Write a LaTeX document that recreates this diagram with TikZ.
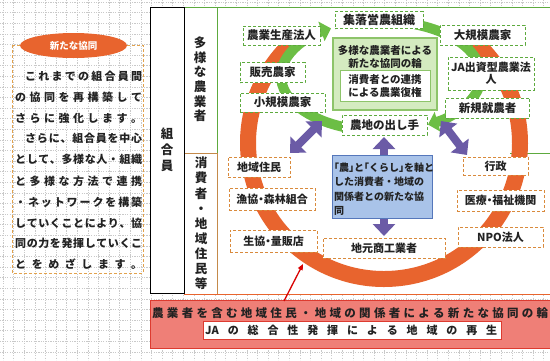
\documentclass[tikz,border=0pt]{standalone}
\usepackage{fontspec}
\usetikzlibrary{arrows.meta,shapes.geometric,calc}
\newfontfamily\jp{Noto Sans CJK JP}
\newfontfamily\jph[RawFeature=+halt]{Noto Sans CJK JP}
\definecolor{ringor}{HTML}{E8642E}
\definecolor{ringgr}{HTML}{6CBE45}
\definecolor{boxgr}{HTML}{5DAA3E}
\definecolor{boxor}{HTML}{D98A3C}
\definecolor{purp}{HTML}{6B5BA6}
\definecolor{bluef}{HTML}{A9C3E9}
\definecolor{blued}{HTML}{5577BB}
\definecolor{cgf}{HTML}{D4EBC0}
\definecolor{cgd}{HTML}{8DC46A}
\definecolor{redf}{HTML}{EF7F77}
\definecolor{redd}{HTML}{DD3B30}
\definecolor{gridc}{HTML}{C9C9C9}
\definecolor{brownc}{HTML}{C48A4A}
\definecolor{dashor}{HTML}{E2A24C}
\definecolor{txt}{HTML}{222222}
\def\sprEnd{}
\def\spr#1{\sprA#1\sprEnd}
\def\sprA#1#2\sprEnd{#1\ifx\sprEnd#2\sprEnd\else\hfill\sprA#2\sprEnd\fi}
\tikzset{
  gbox/.style={draw=boxgr, fill=white, line width=0.9pt, dash pattern=on 3pt off 2pt, inner sep=0pt, align=center, text=txt, font=\jp\bfseries\fontsize{11.5}{12.5}\selectfont},
  obox/.style={draw=boxor, fill=white, line width=0.9pt, dash pattern=on 3pt off 2pt, inner sep=0pt, align=center, text=txt, font=\jph\bfseries\fontsize{11}{12.5}\selectfont},
  gring/.style={ringgr, line width=10pt, -{Triangle[width=20pt,length=10pt]}},
  parr/.style={purp, line width=8pt, {Triangle[width=22pt,length=12pt]}-{Triangle[width=22pt,length=12pt]}},
  vtxt/.style={inner sep=0pt, align=center, text=txt},
  ptxt/.style={anchor=west, inner sep=0pt, text=txt, font=\jp\bfseries\fontsize{11}{13}\selectfont},
  gridln/.style={gridc, line width=0.4pt, dash pattern=on 1.2pt off 1.2pt},
}
\begin{document}
\begin{tikzpicture}[x=1pt,y=-1pt]
\useasboundingbox (0,0) rectangle (550,360);
\fill[white] (0,0) rectangle (550,360);
% grid
\foreach \i in {0,...,52} \draw[gridln] ({\i*10.6+3},0) -- ({\i*10.6+3},360);
\foreach \j in {0,...,34} \draw[gridln] (0,{\j*10.6+2}) -- (550,{\j*10.6+2});
% left panel
\draw[dashor, dash pattern=on 3pt off 2pt, line width=1pt] (12,45) rectangle (143,273);
\node[ellipse, fill=ringor, minimum width=107pt, minimum height=25pt, inner sep=0pt, text=white, font=\jp\bfseries\fontsize{9.5}{11}\selectfont] (oval) at (73.5,45.5) {新たな協同};
\node[ptxt] (p1) at (25,76) {\hbox to 117pt{\spr{これまでの組合員間}}};
\node[ptxt] (p2) at (15,97) {\hbox to 127pt{\spr{の協同を再構築して}}};
\node[ptxt] (p3) at (15,118) {\hbox to 127pt{\spr{さらに強化します。}}};
\node[ptxt] (p4) at (25,138) {\hbox to 117pt{\spr{さらに、組合員を中心}}};
\node[ptxt] (p5) at (15,159) {\hbox to 127pt{\spr{として、多様な人・組織}}};
\node[ptxt] (p6) at (15,181) {\hbox to 127pt{\spr{と多様な方法で連携}}};
\node[ptxt] (p7) at (15,202) {\hbox to 127pt{\spr{・ネットワークを構築}}};
\node[ptxt] (p8) at (15,223) {\hbox to 127pt{\spr{していくことにより、協}}};
\node[ptxt] (p9) at (15,243) {\hbox to 127pt{\spr{同の力を発揮していくこ}}};
\node[ptxt] (p10) at (15,264) {\hbox to 127pt{\spr{とをめざします。}}};
% main frame
\fill[white] (150,7) rectangle (550,294);
\draw[boxgr, line width=0.8pt] (184,7) -- (550,7);
\draw[boxgr, line width=0.8pt] (184,7) rectangle (217,153);
\draw[boxgr, line width=0.8pt] (510,153) -- (550,153);
\draw[brownc, line width=0.8pt] (184,153) rectangle (217,294);
\draw[ringor, line width=0.8pt] (184,294) -- (550,294);
\draw[black, line width=1pt] (150,7) rectangle (184,293);
\node[vtxt, font=\jp\bfseries\fontsize{12.5}{16}\selectfont] (kumiai) at (167,150) {組\\合\\員};
\node[vtxt, font=\jp\bfseries\fontsize{12.5}{14.6}\selectfont] (noug) at (200,79.5) {多\\様\\な\\農\\業\\者};
\node[vtxt, font=\jp\bfseries\fontsize{12.5}{15.1}\selectfont] (shohi) at (201,223.5) {消\\費\\者\\・\\地\\域\\住\\民\\等};
% orange ring (open at the top, ends hidden behind the upper boxes)
\coordinate (oc) at (384,143);
\draw[ringor, line width=16pt] ($(oc)+(-49:136 and 136)$) arc[start angle=-49, end angle=229, x radius=136, y radius=136];
% green ring
\coordinate (gc) at (381,76);
\draw[gring] ($(gc)+(110:100 and 55)$) arc[start angle=110, end angle=240, x radius=100, y radius=55];
\draw[gring] ($(gc)+(290:100 and 55)$) arc[start angle=290, end angle=422, x radius=100, y radius=55];
% purple arrows
\coordinate (pa1) at (322,121); \coordinate (pa2) at (290,153);
\coordinate (pb1) at (384,137); \coordinate (pb2) at (384,236);
\coordinate (pc1) at (441,121); \coordinate (pc2) at (467,155);
\draw[parr] (pa1) -- (pa2);
\draw[parr] (pb1) -- (pb2);
\draw[parr] (pc1) -- (pc2);
% center boxes
\node[draw=cgd, fill=cgf, line width=1.5pt, minimum width=104pt, minimum height=72pt, inner sep=0pt] (cbox) at (385,74) {};
\node[vtxt, font=\jp\bfseries\fontsize{10.5}{12.5}\selectfont] (ctext) at (385,57) {多様な農業者による\\新たな協同の輪};
\node[draw=cgd, fill=white, line width=1pt, minimum width=90pt, minimum height=31pt, inner sep=0pt, align=center, text=txt, font=\jp\bfseries\fontsize{10.5}{12.5}\selectfont] (inner) at (385,86) {消費者との連携\\による農業復権};
\node[draw=blued, fill=bluef, line width=1pt, minimum width=100pt, minimum height=63pt, inner sep=0pt] (blue) at (382,186.5) {};
\node[anchor=west, inner sep=0pt, align=left, text=txt, font=\jp\bfseries\fontsize{10}{14.5}\selectfont] (btext) at (334,189) {{\jph 「農」と「くらし」を軸と}\\した消費者・地域の\\関係者との新たな協\\同};
% green nodes
\node[gbox, minimum width=88pt, minimum height=17pt, font=\jp\bfseries\fontsize{12}{13}\selectfont] (shuraku) at (379,20) {集落営農組織};
\node[gbox, minimum width=77pt, minimum height=19pt] (seisan) at (281.5,35.5) {農業生産法人};
\node[gbox, minimum width=65pt, minimum height=20pt] (hanbai) at (272.5,72.5) {販売農家};
\node[gbox, minimum width=85pt, minimum height=19pt] (shokibo) at (282.5,102.5) {小規模農家};
\node[gbox, minimum width=85pt, minimum height=20pt] (dashite) at (384.5,125) {農地の出し手};
\node[gbox, minimum width=85pt, minimum height=20pt] (daikibo) at (482.5,35) {大規模農家};
\node[gbox, minimum width=86pt, minimum height=33pt, font=\jp\bfseries\fontsize{11}{12.5}\selectfont] (ja) at (491,73.5) {JA出資型農業法\\人};
\node[gbox, minimum width=84pt, minimum height=20pt] (shinki) at (487.5,108) {新規就農者};
% orange nodes
\node[obox, minimum width=62pt, minimum height=20pt] (chiiki) at (259,167) {地域住民};
\node[obox, minimum width=86pt, minimum height=22pt] (gyokyo) at (272,199) {漁協・森林組合};
\node[obox, minimum width=87pt, minimum height=22pt] (seikyo) at (273.5,241) {生協・量販店};
\node[obox, minimum width=122pt, minimum height=20pt] (shoko) at (384,248) {地元商工業者};
\node[obox, minimum width=65pt, minimum height=18pt] (gyosei) at (495.5,166) {行政};
\node[obox, minimum width=87pt, minimum height=21pt] (iryo) at (500.5,200.5) {医療・福祉機関};
\node[obox, minimum width=85pt, minimum height=20pt] (npo) at (500.5,237) {NPO法人};
% bottom red box
\draw[fill=redf, draw=redd, line width=1pt] (150,300) rectangle (553,348);
\node[ptxt, font=\jp\bfseries\fontsize{11.5}{13}\selectfont] (r1) at (152,313) {\hbox to 396pt{\spr{農業者を含む地域住民・地域の関係者による新たな協同の輪}}};
\node[draw=redd, fill=white, line width=0.8pt, minimum width=298pt, minimum height=18pt, inner sep=0pt] (wbox) at (352,330) {};
\node[ptxt] (r2) at (205,330) {\hbox to 292pt{\spr{{JA}の総合性発揮による地域の再生}}};
% red arrow
\coordinate (ra) at (284,301);
\coordinate (rb) at (303,264);
\draw[red!85!black, line width=1.3pt, -{Triangle[width=5pt,length=6pt]}] (ra) -- (rb);
\end{tikzpicture}
\end{document}
